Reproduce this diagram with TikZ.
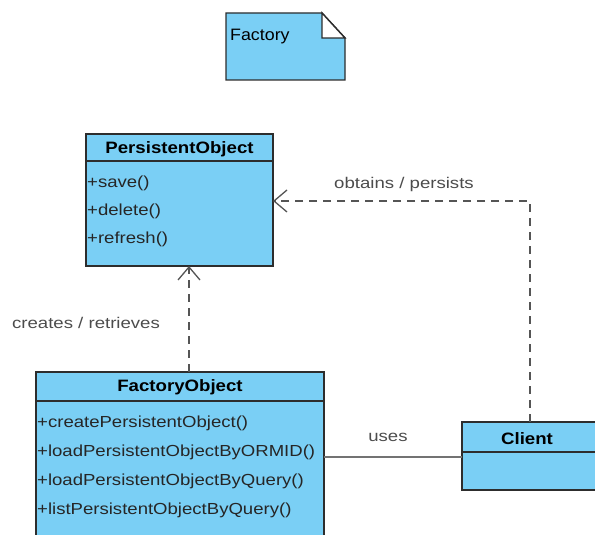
\documentclass[tikz,border=0pt]{standalone}
\usepackage{fontspec}
\setmainfont{Liberation Sans}
\newfontfamily\itemfont[FakeStretch=1.16]{Liberation Sans}
\newfontfamily\hdrfont[FakeStretch=1.13]{Liberation Sans}
\newfontfamily\lblfont[FakeStretch=1.2]{Liberation Sans}
\newfontfamily\notefont[FakeStretch=1.08]{Liberation Sans}
\usetikzlibrary{arrows.meta}
\definecolor{umlfill}{RGB}{122,207,245}
\definecolor{umlline}{RGB}{45,45,45}
\definecolor{conn}{RGB}{85,85,85}
\tikzset{
  umlbox/.style={draw=umlline, fill=umlfill, line width=1.4pt},
  divider/.style={draw=umlline, line width=1.4pt},
  hdr/.style={font=\hdrfont\fontsize{16.5}{19}\selectfont\bfseries, inner sep=0pt},
  item/.style={font=\itemfont\fontsize{16}{19}\selectfont, inner sep=0pt, anchor=west, text=black!85},
  lbl/.style={font=\lblfont\fontsize{15.5}{19}\selectfont, inner sep=0pt, text=black!70},
  dep/.style={draw=conn, line width=1.6pt, dash pattern=on 8pt off 6pt, -{Straight Barb[length=13pt,width=22pt,line width=1.3pt]}},
  assoc/.style={draw=black!55, line width=2pt},
}
\begin{document}
\begin{tikzpicture}[x=1pt,y=1pt]
\useasboundingbox (0,0) rectangle (595,535);
\clip (0,0) rectangle (595,535);
% Factory note
\draw[umlbox] (226,522) -- (322,522) -- (345,497) -- (345,455) -- (226,455) -- cycle;
\draw[divider, fill=white] (322,522) -- (322,497) -- (345,497) -- cycle;
\node[font=\notefont\fontsize{16.5}{19}\selectfont, anchor=west, inner sep=0pt] (notetext) at (230,498) {Factory};
% PersistentObject
\draw[umlbox] (86,401) rectangle (273,269);
\draw[divider] (86,374) -- (273,374);
\coordinate (poB) at (189,269);
\coordinate (poR) at (273,334);
\node[hdr] (pohead) at (179.5,385.5) {PersistentObject};
\node[item] (po1) at (87,352) {+save()};
\node[item] (po2) at (87,324) {+delete()};
\node[item] (po3) at (87,296) {+refresh()};
% FactoryObject
\draw[umlbox] (36,163) rectangle (324,-20);
\draw[divider] (36,134) -- (324,134);
\coordinate (foT) at (189,163);
\coordinate (foR) at (324,78);
\node[hdr] (fohead) at (180,147.5) {FactoryObject};
\node[item] (fo1) at (37,112) {+createPersistentObject()};
\node[item] (fo2) at (37,83) {+loadPersistentObjectByORMID()};
\node[item] (fo3) at (37,54) {+loadPersistentObjectByQuery()};
\node[item] (fo4) at (37,25) {+listPersistentObjectByQuery()};
% Client
\draw[umlbox] (462,113) rectangle (620,45);
\draw[divider] (462,83) -- (620,83);
\coordinate (clT) at (530,113);
\coordinate (clL) at (462,78);
\node[hdr] (clhead) at (527,96.5) {Client};
% connectors
\draw[dep] (foT) -- (poB);
\coordinate (bend) at (530,334);
\draw[dep] (clT) -- (bend) -- (poR);
\draw[assoc] (foR) -- (clL);
% labels
\node[lbl] (l1) at (86,212) {creates / retrieves};
\node[lbl] (l2) at (404,350.5) {obtains / persists};
\node[lbl] (l3) at (388,97.5) {uses};
\end{tikzpicture}
\end{document}
